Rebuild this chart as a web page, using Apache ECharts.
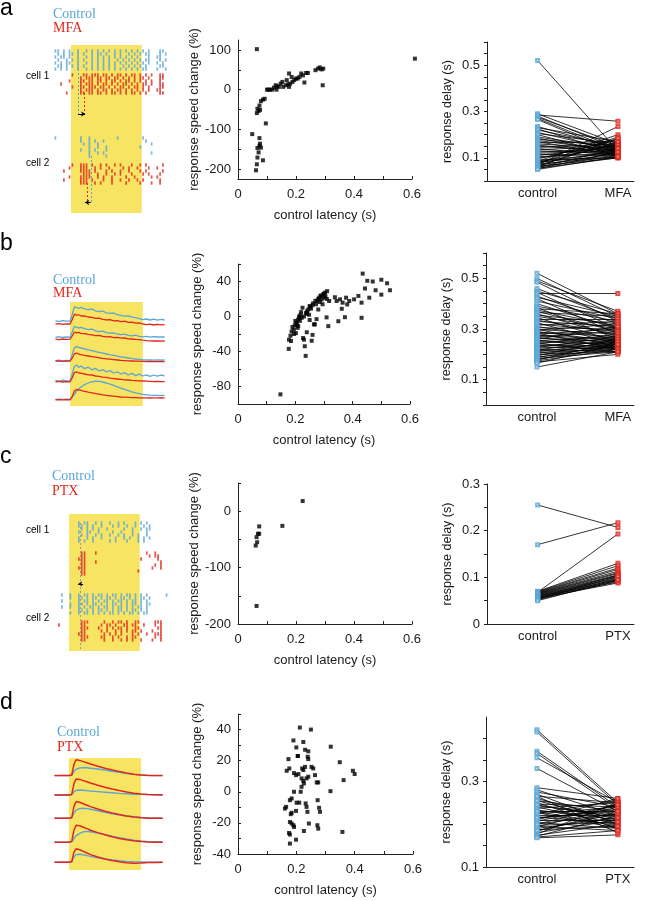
<!DOCTYPE html>
<html><head><meta charset="utf-8">
<script src="https://cdn.jsdelivr.net/npm/echarts@6/dist/echarts.min.js"></script>
<style>html,body{margin:0;padding:0;background:#fff}#c{width:660px;height:901px}</style>
</head><body><div id="c"></div><script>
// ---------------- DATA ----------------
// Scatter: control latency (s) vs response speed change (%)
const latencyA = [0.049,0.062,0.065,0.067,0.071,0.067,0.074,0.079,0.076,0.074,0.086,0.096,0.065,0.071,0.076,0.067,0.074,0.079,0.086,0.092,0.065,0.1,0.105,0.11,0.118,0.124,0.13,0.133,0.141,0.147,0.153,0.156,0.165,0.168,0.173,0.176,0.18,0.185,0.188,0.194,0.2,0.206,0.212,0.218,0.224,0.229,0.235,0.241,0.267,0.276,0.282,0.288,0.294,0.292,0.135,0.176,0.61];
const changeA  = [-112,-203,-188,-171,-158,-147,-141,-146,-136,-122,-178,-85,-59,-54,-51,-48,-40,-29,-25,-23,102,0,0,0,0,5,11,0,7,15,19.5,7,11,24,13.5,7,15,32,19.5,24,28,28,32,40.7,36,18,42,42,49,53,56,51,53,11,8.5,40.7,78];

const latencyB = [0.148,0.177,0.178,0.183,0.187,0.19,0.195,0.198,0.202,0.204,0.208,0.21,0.213,0.216,0.218,0.222,0.225,0.227,0.23,0.233,0.236,0.237,0.241,0.245,0.248,0.251,0.257,0.26,0.262,0.265,0.268,0.272,0.274,0.276,0.28,0.283,0.286,0.288,0.292,0.295,0.297,0.301,0.304,0.309,0.311,0.315,0.318,0.338,0.344,0.35,0.356,0.362,0.365,0.373,0.377,0.381,0.388,0.405,0.42,0.431,0.431,0.435,0.443,0.451,0.458,0.47,0.48,0.5,0.5,0.52,0.53,0.2,0.205,0.215,0.22,0.23,0.24,0.25,0.255,0.26,0.27,0.28,0.29,0.3,0.305,0.31,0.185,0.195,0.21,0.24,0.25];
const changeB  = [-89,-37,-26.5,-22,-17,-12,-15,-10,-19,-7,-13,-3.5,0,-5,2,-1.5,10,-24.6,-26.5,-34,-45,4,6,8,2,11,-27.7,-21,15,-9,-9,14,-3,17.7,8,21.5,16.5,23.5,19.6,14,25.4,21.5,27.3,-1,29,-11,17.7,22,17.7,-5.4,19.6,8.8,15.8,-0.8,21.5,13.8,17.7,19.6,23.5,-1.5,15.8,49,32,40.8,21.5,40,30,25,42,38,30,-5,-9,-1,5,0,3,12,9,13,18,20,24,26,23,20,-28,-20,-11,-18,-4];

const latencyC = [0.061,0.064,0.069,0.073,0.066,0.073,0.064,0.153,0.223];
const changeC  = [-61,-46,-40,-40,-55,-27,-168,-26,18];

const latencyD = [0.212,0.25,0.19,0.224,0.2,0.205,0.23,0.241,0.173,0.205,0.239,0.241,0.318,0.349,0.394,0.4,0.362,0.167,0.176,0.192,0.199,0.207,0.22,0.224,0.23,0.252,0.258,0.218,0.224,0.235,0.241,0.264,0.27,0.275,0.218,0.226,0.215,0.192,0.317,0.178,0.184,0.165,0.161,0.201,0.21,0.232,0.235,0.273,0.278,0.281,0.184,0.181,0.199,0.238,0.178,0.184,0.19,0.192,0.243,0.272,0.275,0.175,0.178,0.199,0.178,0.226,0.358];
const changeD  = [41.3,40,33,32,28.5,23,27,26,21,23,22.5,21,29,19,13.5,11.4,7.5,13.5,15,12,10.7,11.4,15,14,16,16,15,8.6,7,8.6,9.7,10.7,6,6,3.2,5.4,0,0,0.4,-5.4,-4.3,-9.7,-10.8,-7,-7,-7.5,-9.7,-5.4,-10.3,-12.9,-13.5,-14.4,-12.3,-12.9,-19.4,-20.4,-21.5,-22.6,-20.4,-21.5,-23.7,-26.5,-27.5,-30.8,-33.3,-25.2,-25.8];

// Paired response delays (s): [control, drug]
const pairsA = [[0.52,0.13],[0.29,0.16],[0.285,0.258],[0.28,0.14],[0.275,0.15],[0.27,0.13],[0.265,0.12],[0.235,0.14],[0.23,0.17],[0.225,0.12],[0.22,0.15],[0.21,0.13],[0.205,0.16],[0.2,0.11],[0.19,0.14],[0.185,0.12],[0.18,0.15],[0.175,0.13],[0.17,0.11],[0.165,0.17],[0.16,0.14],[0.155,0.12],[0.15,0.13],[0.145,0.16],[0.14,0.11],[0.135,0.15],[0.13,0.12],[0.125,0.14],[0.12,0.13],[0.115,0.11],[0.11,0.15],[0.105,0.12],[0.1,0.14],[0.095,0.18],[0.09,0.1],[0.088,0.12],[0.085,0.2],[0.082,0.11],[0.08,0.16],[0.078,0.13],[0.075,0.19],[0.073,0.105],[0.07,0.235],[0.068,0.12],[0.066,0.17],[0.064,0.1],[0.062,0.185],[0.06,0.11],[0.058,0.14],[0.055,0.1],[0.053,0.125],[0.05,0.105]];
const pairsB = [[0.52,0.36],[0.5,0.35],[0.49,0.37],[0.485,0.33],[0.46,0.34],[0.45,0.36],[0.445,0.3],[0.44,0.44],[0.43,0.32],[0.425,0.35],[0.42,0.28],[0.41,0.34],[0.4,0.3],[0.39,0.33],[0.385,0.26],[0.38,0.36],[0.375,0.31],[0.37,0.29],[0.365,0.35],[0.36,0.27],[0.355,0.32],[0.35,0.3],[0.345,0.25],[0.34,0.34],[0.335,0.28],[0.33,0.31],[0.325,0.24],[0.32,0.29],[0.315,0.33],[0.31,0.26],[0.305,0.3],[0.3,0.23],[0.298,0.28],[0.295,0.32],[0.29,0.25],[0.287,0.27],[0.284,0.22],[0.28,0.3],[0.277,0.24],[0.274,0.26],[0.27,0.29],[0.267,0.23],[0.264,0.25],[0.26,0.31],[0.257,0.22],[0.254,0.27],[0.25,0.24],[0.247,0.26],[0.244,0.21],[0.24,0.28],[0.237,0.23],[0.234,0.25],[0.23,0.22],[0.227,0.27],[0.224,0.24],[0.22,0.21],[0.217,0.26],[0.214,0.23],[0.21,0.25],[0.207,0.22],[0.204,0.24],[0.2,0.21],[0.197,0.23],[0.194,0.26],[0.19,0.22],[0.187,0.24],[0.184,0.21],[0.18,0.23],[0.177,0.25],[0.174,0.22],[0.17,0.2],[0.165,0.24],[0.15,0.21]];
const pairsC = [[0.255,0.207],[0.17,0.217],[0.068,0.193],[0.07,0.13],[0.069,0.125],[0.068,0.12],[0.067,0.117],[0.066,0.113],[0.065,0.11],[0.064,0.108],[0.063,0.105],[0.062,0.103],[0.061,0.1],[0.06,0.098],[0.059,0.095],[0.058,0.093],[0.057,0.09],[0.056,0.105],[0.055,0.088],[0.054,0.097],[0.053,0.102],[0.052,0.092],[0.05,0.095]];
const pairsD = [[0.42,0.25],[0.415,0.245],[0.37,0.24],[0.365,0.235],[0.355,0.25],[0.33,0.23],[0.285,0.26],[0.28,0.22],[0.275,0.24],[0.27,0.2],[0.265,0.25],[0.26,0.21],[0.255,0.23],[0.25,0.19],[0.247,0.24],[0.243,0.22],[0.24,0.2],[0.237,0.25],[0.233,0.21],[0.23,0.23],[0.227,0.19],[0.224,0.24],[0.22,0.22],[0.217,0.2],[0.214,0.235],[0.21,0.21],[0.207,0.245],[0.204,0.19],[0.2,0.225],[0.197,0.205],[0.194,0.24],[0.19,0.215],[0.187,0.195],[0.184,0.23],[0.18,0.21],[0.177,0.25],[0.174,0.2],[0.172,0.22],[0.17,0.185],[0.168,0.175],[0.265,0.18],[0.225,0.255],[0.21,0.26],[0.195,0.185],[0.2,0.245],[0.23,0.195],[0.185,0.225],[0.245,0.215],[0.255,0.205],[0.215,0.23]];

// Raster spike trains: one string per trial, '|' = spike in a 40 ms bin starting at -0.24 s (stimulus 0-1 s)
const RASTER_T0 = -0.22, RASTER_BIN = 0.04;
const rasterA_ctl1 = [
"||.|.|..|..|.|.|.|.|.|.|.|.|.|.|.|...||..",
".|.|.||.|.|..|.||.|..|.|..|.|.|.||...|.|.",
"|.||.|..|..|.|.|.|.|.|.|.|.|.|...|..||...",
".|..|.|.|.|..|.|.|.|..|.|.|.|.|.||...|.|.",
"|.|.||..|..|.|.|.|.|.|.|.|.|.|.|.|..|.|..",
".||.|.|.|.|..|.|.|.|.|..|.|.|.|.|....||..",
"|.|.|...|..|.|.|.|.|.|.|.|.|.|.||...|..|."];
const rasterA_drug1 = [
"......|...||.|||.||.|.||.|.||.|.|.|..||..",
".........|.|||.||.||.||.|.|.|.||.|...||..",
".....|...||.||.||.|.||.|.||.|.|.|.|..|...",
"..|......|.|||.|.||.|.|.||.|.|.||.|..||..",
"......|..||.|||.||.|.|.||.|.||.|.|...||..",
".........|.|||.|.||.|.||.|.|.|.|.|..||...",
"....|....||.||.||.|.||.|.|.||.|.|....||.."];
const rasterA_ctl2 = [
"|........|..|.........|........|.........",
".........|..|.|..|..............|........",
"..........|.|..|..................|......",
"............|..|..|...........|..........",
".........|..|.|...|......................",
"............|..|.|................|......",
"............|.....|......................"];
const rasterA_drug2 = [
"......|..|||.|..|.|..|.|...|..|.|.....|..",
".....|...|||..|.|..|....|.|..|...|..|....",
"...|.....||||.|...|.|..|..|...|.|.....|..",
"..........|||..|..|..|.|...|...|.|...|...",
".....|...||||..|.|..|....|..|.....|.|....",
"...|.....|||.|...|..|..|..|..|.|.....|...",
".........|||..|.|...|....|....|...|..|...."];
const rasterC_ctl1 = [
".........|.||..|.|..|..|.|...|.|.|.......",
".........||.|.|..|...|.|..|..|..|.|......",
"..........|.|.|.|..|.....|..|..|.||......",
".........|..||..|....|..|...|....|.......",
"..........|.|..|.|..|..|.|..|.|..|.......",
".........|..|.|..|....|..|.|..|.|.|......",
".........|.|..|.....|.|...|...|.|........"];
const rasterC_drug1 = [
"..........||...|.................|..|....",
"..........||......................|.||...",
".........|||...................|.....|...",
"..........||...|......................|..",
"..........||........................|.|..",
".........|||.......................|..|..",
"..........||..................|..........",
"..........||............................."];
const rasterC_ctl2 = [
"...|..|..|.||.|.||.|.||.|.||.|.|.|......|",
"......|..||.|.||.|.||.|.||.|.|.||.|......",
"...|.....|.||.|.|.||.|.||.|.||.|.|.......",
"......|..||.|.||.|.|.||.|.|.||.|.||......",
"...|..|..|.|.||.|.||.|.||.|.|.||.|.......",
".........||.|.|.||.|.|.||.|.||.|.|.......",
"......|..|.||.|.|.|.||.|.|.||.|.||......."];
const rasterC_drug2 = [
"..........|||.....|..|.||.|..||.....|||..",
"..|.......||.....|.||.|..||.||..|...|.|..",
"..........|||...|..|.|.||.|..||......||..",
"..........||.....|.|..|.|.|.||.|...|..|..",
".........|||......|.|.|.|...|.|..|..|||..",
"..........|||....||..|.|..|.||......|.|..",
"..........||......|..|..|.|.|..|...|..|.."];

// Panel b traces (time s, response in a.u.; one offset per stacked trace)
const timeB = [-0.2,-0.15,-0.1,-0.05,0,0.03,0.06,0.09,0.12,0.15,0.2,0.25,0.3,0.35,0.4,0.45,0.5,0.55,0.6,0.65,0.7,0.75,0.8,0.85,0.9,0.95,1.0,1.05,1.1,1.15,1.2,1.25,1.3];
const offsetB = [42.2,34.2,22.7,12.5,3.3];
const ctlB1 = [0.4,0.1,0.5,0.2,0.3,3.5,7.3,7.0,6.6,7.1,6.4,6.0,6.3,5.4,5.0,5.3,4.4,4.1,4.3,3.5,3.1,2.7,2.9,2.2,2.0,1.5,1.0,1.3,0.8,1.2,0.7,1.1,0.8];
const mfaB1 = [-1.3,-1.0,-1.4,-1.1,-1.2,1.0,3.7,3.2,3.4,2.8,2.9,2.3,2.1,1.6,1.7,1.1,0.9,1.0,0.4,0.5,0.0,0.2,-0.4,-0.3,-0.8,-0.6,-1.2,-1.5,-1.3,-1.7,-1.4,-1.6,-1.5];
const ctlB2 = [0.2,0.4,0.1,0.3,0.2,2.8,5.6,5.2,4.8,5.1,4.5,4.0,4.2,3.4,3.0,3.2,2.5,2.2,2.4,1.8,1.5,1.7,1.1,0.9,1.2,0.6,0.4,0.6,0.2,0.5,0.3,0.4,0.3];
const mfaB2 = [-0.8,-1.0,-0.7,-0.9,-0.8,0.8,2.8,2.4,2.6,2.1,2.0,1.6,1.4,1.0,1.1,0.6,0.4,0.5,0.0,0.1,-0.3,-0.2,-0.6,-0.7,-0.9,-1.0,-1.3,-1.5,-1.6,-1.7,-1.6,-1.8,-1.7];
const ctlB3 = [0,0.2,-0.1,0.1,0,3.0,6.5,7.0,6.6,6.3,5.9,5.4,5.0,4.5,4.1,3.7,3.3,2.9,2.6,2.2,1.9,1.6,1.3,1.0,0.8,0.6,0.4,0.3,0.3,0.2,0.3,0.2,0.3];
const mfaB3 = [-0.3,-0.2,-0.4,-0.2,-0.3,1.2,3.4,3.7,3.3,3.0,2.6,2.3,2.0,1.7,1.4,1.1,0.9,0.7,0.5,0.3,0.1,0.0,-0.1,-0.2,-0.3,-0.3,-0.4,-0.5,-0.4,-0.5,-0.5,-0.4,-0.5];
const ctlB4 = [0.3,-0.2,0.4,0,0.2,3.5,7.4,8.0,6.8,7.5,6.2,6.9,5.6,6.3,5.0,5.7,4.6,5.2,4.0,4.6,3.5,4.2,3.0,3.8,2.7,3.4,2.5,3.1,2.3,3.0,2.4,2.9,2.6];
const mfaB4 = [-0.4,-0.2,-0.5,-0.3,-0.4,1.5,4.2,4.6,4.0,3.9,3.5,3.1,3.0,2.5,2.3,1.9,1.8,1.4,1.2,1.0,0.8,0.6,0.5,0.3,0.2,0.1,0.0,-0.1,-0.2,-0.3,-0.2,-0.3,-0.3];
const ctlB5 = [0,0.1,0,0.1,0,1.0,2.5,4.0,5.2,6.2,7.4,8.2,8.8,9.1,9.0,8.7,8.2,7.6,7.0,6.3,5.6,5.0,4.4,3.8,3.3,2.9,2.5,2.3,2.1,2.0,2.0,1.9,2.0];
const mfaB5 = [-0.2,-0.1,-0.2,-0.1,-0.2,1.5,4.2,5.0,4.8,4.5,4.0,3.6,3.3,2.9,2.6,2.3,2.0,1.8,1.6,1.4,1.2,1.1,1.0,0.9,0.9,0.8,0.8,0.8,0.7,0.8,0.8,0.7,0.8];

// Panel d traces
const timeD = [-0.2,-0.1,0,0.04,0.07,0.1,0.15,0.2,0.25,0.3,0.4,0.5,0.6,0.7,0.8,0.9,1.0,1.1,1.2,1.3];
const offsetD = [47.2,37.5,25.9,13.9,3.9];
const ctlD1 = [0,0,0,0.2,2.0,3.2,3.8,4.0,3.9,3.7,3.3,2.8,2.2,1.6,1.0,0.6,0.3,0.1,0,0];
const ptxD1 = [0,0,0,0.3,5.5,7.9,7.6,7.0,6.4,5.8,4.7,3.7,2.8,2.0,1.3,0.7,0.3,0.1,0,0];
const ctlD2 = [0,0,0,0.2,1.6,2.3,2.5,2.4,2.2,2.0,1.7,1.4,1.1,0.8,0.6,0.4,0.3,0.2,0.1,0.1];
const ptxD2 = [0,0,0,0.3,5.6,8.0,7.8,7.2,6.6,6.0,4.9,3.9,3.0,2.2,1.5,0.9,0.5,0.2,0.1,0];
const ctlD3 = [0,0,0,0.2,2.5,4.0,4.8,5.0,4.8,4.5,3.7,2.9,2.2,1.6,1.1,0.7,0.4,0.2,0.1,0];
const ptxD3 = [0,0,0,0.3,5.8,8.3,8.0,7.2,6.5,5.8,4.6,3.5,2.6,1.8,1.1,0.6,0.2,0,0,0];
const ctlD4 = [0,0,0,0.2,1.8,3.2,4.4,5.2,5.4,5.2,4.6,3.8,3.0,2.3,1.6,1.0,0.6,0.3,0.2,0.1];
const ptxD4 = [0,0,0,0.4,6.0,8.5,8.2,7.5,6.8,6.0,4.8,3.7,2.7,1.9,1.2,0.7,0.3,0.1,0,0];
const ctlD5 = [0,0,0,0.2,2.6,3.8,4.0,3.7,3.3,2.9,2.2,1.6,1.1,0.7,0.4,0.2,0.1,0,0,0];
const ptxD5 = [0,0,0,0.3,5.0,6.7,6.2,5.4,4.6,3.8,2.6,1.6,0.8,0.2,-0.3,-0.5,-0.4,-0.2,-0.1,0];

// Axis ticks / labels
const latTicks = [0,0.1,0.2,0.3,0.4,0.5,0.6];
const latLabels = [0,0.2,0.4,0.6];

// ---------------- STYLE / LAYOUT ----------------
const BLUE = '#5aa6d6', RED = '#e1261d', YEL = '#f7e463';
const FONT = '"Liberation Sans", Arial, sans-serif';
const grids = [], xAxes = [], yAxes = [], series = [];

function addGrid(g){ grids.push(Object.assign({containLabel:false}, g)); return grids.length-1; }
function hiddenAxes(gi, xmin, xmax, ymin, ymax, inv){
  xAxes.push({gridIndex:gi,type:'value',min:xmin,max:xmax,show:false});
  yAxes.push({gridIndex:gi,type:'value',min:ymin,max:ymax,show:false,inverse:!!inv});
  return xAxes.length-1;
}
function range(a,b,s){const r=[];for(let v=a;v<=b+1e-9;v+=s)r.push(Math.round(v*1000)/1000);return r;}
const axLine = {show:true,onZero:false,lineStyle:{color:'#222',width:1}};
const lblStyle = {fontSize:13,color:'#1a1a1a',fontFamily:FONT};

function scatterPanel(g, ymin, ymax, yTicks, yLabels, xs, ys){
  const gi = addGrid(g);
  xAxes.push({gridIndex:gi,type:'value',min:0,max:0.6,axisLine:axLine,splitLine:{show:false},
    axisTick:{show:true,inside:true,length:3,customValues:latTicks,lineStyle:{color:'#222'}},
    axisLabel:Object.assign({customValues:latLabels,margin:9},lblStyle),
    name:'control latency (s)',nameLocation:'middle',nameGap:30,nameTextStyle:{fontSize:13,color:'#1a1a1a',fontFamily:FONT}});
  yAxes.push({gridIndex:gi,type:'value',min:ymin,max:ymax,axisLine:axLine,splitLine:{show:false},
    axisTick:{show:true,inside:true,length:3,customValues:yTicks,lineStyle:{color:'#222'}},
    axisLabel:Object.assign({customValues:yLabels,margin:7},lblStyle),
    name:'response speed change (%)',nameLocation:'middle',nameGap:34,nameTextStyle:{fontSize:13,color:'#1a1a1a',fontFamily:FONT}});
  const ai = xAxes.length-1;
  series.push({type:'scatter',xAxisIndex:ai,yAxisIndex:ai,symbol:'rect',symbolSize:4,clip:false,
    itemStyle:{color:'#000'},silent:true,data:xs.map((x,i)=>[x,ys[i]])});
}
function pairedPanel(g, ymin, ymax, yTicks, yLabels, drugName, pairs){
  const gi = addGrid(g);
  xAxes.push({gridIndex:gi,type:'value',min:0.37,max:2.2,axisLine:axLine,splitLine:{show:false},
    axisTick:{show:false},
    axisLabel:Object.assign({customValues:[1,2],margin:6,formatter:v=>v===1?'control':drugName},lblStyle)});
  yAxes.push({gridIndex:gi,type:'value',min:ymin,max:ymax,axisLine:axLine,splitLine:{show:false},
    axisTick:{show:true,length:3,customValues:yTicks,lineStyle:{color:'#222'}},
    axisLabel:Object.assign({customValues:yLabels,margin:7},lblStyle),
    name:'response delay (s)',nameLocation:'middle',nameGap:33,nameTextStyle:{fontSize:12.5,color:'#1a1a1a',fontFamily:FONT}});
  const ai = xAxes.length-1;
  series.push({type:'lines',coordinateSystem:'cartesian2d',xAxisIndex:ai,yAxisIndex:ai,silent:true,
    lineStyle:{color:'#000',width:0.8,opacity:1},data:pairs.map(p=>({coords:[[1,p[0]],[2,p[1]]]}))});
  series.push({type:'scatter',xAxisIndex:ai,yAxisIndex:ai,symbol:'emptyRect',symbolSize:3,silent:true,
    itemStyle:{color:BLUE,borderColor:BLUE,borderWidth:0.6},data:pairs.map(p=>[1,p[0]])});
  series.push({type:'scatter',xAxisIndex:ai,yAxisIndex:ai,symbol:'emptyRect',symbolSize:3,silent:true,
    itemStyle:{color:RED,borderColor:RED,borderWidth:0.6},data:pairs.map(p=>[2,p[1]])});
}
function yellowBox(ai, y0, y1){
  series.push({type:'custom',xAxisIndex:ai,yAxisIndex:ai,silent:true,z:0,data:[[0,y0,1,y1]],
    renderItem:(params,api)=>{const a=api.coord([api.value(0),api.value(1)]),b=api.coord([api.value(2),api.value(3)]);
      return {type:'rect',shape:{x:Math.min(a[0],b[0]),y:Math.min(a[1],b[1]),width:Math.abs(b[0]-a[0]),height:Math.abs(b[1]-a[1])},style:{fill:YEL}};}});
}
function rasterSeries(ai, rows, firstRow, color){
  const d=[]; rows.forEach((s,k)=>{for(let i=0;i<s.length;i++) if(s[i]==='|') d.push([RASTER_T0+RASTER_BIN*i, firstRow+k]);});
  series.push({type:'scatter',xAxisIndex:ai,yAxisIndex:ai,symbol:'rect',symbolSize:[1.7,3.3],silent:true,z:3,
    itemStyle:{color:color},data:d});
}
function markLines(ai, segs, dashed, arrow){
  series.push({type:'lines',coordinateSystem:'cartesian2d',xAxisIndex:ai,yAxisIndex:ai,silent:true,z:4,
    symbol:arrow?['none','arrow']:'none',symbolSize:4,
    lineStyle:{width:1,opacity:1,type:dashed?[2,2]:'solid'},
    data:segs.map(s=>({coords:[[s[0],s[1]],[s[2],s[3]]],lineStyle:{color:s[4]}}))});
}
function traceSeries(ai, t, vals, off, color, w){
  series.push({type:'line',xAxisIndex:ai,yAxisIndex:ai,showSymbol:false,silent:true,z:3,
    lineStyle:{color:color,width:w},data:t.map((x,i)=>[x,off+vals[i]])});
}

// ---- Row a ----
let ai = hiddenAxes(addGrid({left:54,top:42,width:116,height:180}), -0.24, 1.4, 0, 60, true);
yellowBox(ai, 1, 57);
rasterSeries(ai, rasterA_ctl1, 3, BLUE);
rasterSeries(ai, rasterA_drug1, 11, RED);
rasterSeries(ai, rasterA_ctl2, 32, BLUE);
rasterSeries(ai, rasterA_drug2, 41, RED);
markLines(ai, [[0.1,9,0.1,24,BLUE],[0.19,17,0.19,24,RED],[0.28,38,0.28,53.5,BLUE],[0.23,47,0.23,53.5,RED]], true, false);
markLines(ai, [[0.1,24,0.2,24,'#000'],[0.28,53.5,0.2,53.5,'#000']], false, true);
scatterPanel({left:238,top:40,width:174,height:139}, -225, 125, range(-200,100,50), [-200,-100,0,100], latencyA, changeA);
pairedPanel({left:487,top:42,width:147,height:139}, 0, 0.6, range(0,0.6,0.05), [0.1,0.3,0.5], 'MFA', pairsA);

// ---- Row b ----
ai = hiddenAxes(addGrid({left:54,top:302,width:115,height:104}), -0.22, 1.36, 0, 52, false);
yellowBox(ai, 0, 52);
[[ctlB1,mfaB1],[ctlB2,mfaB2],[ctlB3,mfaB3],[ctlB4,mfaB4],[ctlB5,mfaB5]].forEach((p,k)=>{
  traceSeries(ai, timeB, p[0], offsetB[k], BLUE, 1.3);
  traceSeries(ai, timeB, p[1], offsetB[k], RED, 1.3);
});
scatterPanel({left:238,top:264,width:172,height:140}, -100, 60, range(-100,60,20), [-80,-40,0,40], latencyB, changeB);
pairedPanel({left:486,top:253,width:148,height:152}, 0, 0.6, range(0,0.6,0.05), [0.1,0.3,0.5], 'MFA', pairsB);

// ---- Row c ----
ai = hiddenAxes(addGrid({left:52,top:511,width:116,height:144}), -0.24, 1.4, 0, 48, true);
yellowBox(ai, 1, 46.7);
rasterSeries(ai, rasterC_ctl1, 4, BLUE);
rasterSeries(ai, rasterC_drug1, 14, RED);
rasterSeries(ai, rasterC_ctl2, 28, BLUE);
rasterSeries(ai, rasterC_drug2, 37, RED);
markLines(ai, [[0.16,4,0.16,46,'#999']], true, false);
markLines(ai, [[0.2,24.3,0.13,24.3,'#000']], false, true);
scatterPanel({left:238,top:483,width:174,height:141}, -200, 50, range(-200,50,50), [-200,-100,0], latencyC, changeC);
pairedPanel({left:487,top:484,width:147,height:140}, 0, 0.3, range(0,0.3,0.05), [0,0.1,0.2,0.3], 'PTX', pairsC);

// ---- Row d ----
ai = hiddenAxes(addGrid({left:53,top:758,width:114,height:112}), -0.22, 1.36, 0, 56, false);
yellowBox(ai, 0, 56);
[[ctlD1,ptxD1],[ctlD2,ptxD2],[ctlD3,ptxD3],[ctlD4,ptxD4],[ctlD5,ptxD5]].forEach((p,k)=>{
  traceSeries(ai, timeD, p[0], offsetD[k], BLUE, 1.4);
  traceSeries(ai, timeD, p[1], offsetD[k], RED, 1.5);
});
scatterPanel({left:238,top:714,width:175,height:140}, -40, 50, range(-40,50,10), [-40,-20,0,20,40], latencyD, changeD);
pairedPanel({left:486,top:717,width:148,height:150}, 0.1, 0.45, range(0.1,0.4,0.05), [0.1,0.3], 'PTX', pairsD);

// ---- Texts ----
function txt(s,x,y,size,color,family){return {type:'text',x:x,y:y,silent:true,z:10,
  style:{text:s,fill:color,font:size+'px '+family,verticalAlign:'middle',textVerticalAlign:'middle'}};}
const SERIF='"Liberation Serif","Times New Roman",serif';
const graphics = [
  txt('a',0,9,23,'#000',FONT), txt('b',0,244,23,'#000',FONT), txt('c',0,457,23,'#000',FONT), txt('d',0,703,23,'#000',FONT),
  txt('Control',53,14,14,BLUE,SERIF), txt('MFA',53,28,14,RED,SERIF),
  txt('cell 1',26,76,10,'#000',FONT), txt('cell 2',26,163,10,'#000',FONT),
  txt('Control',53,280,14,BLUE,SERIF), txt('MFA',53,293,14,RED,SERIF),
  txt('Control',52,476,14,BLUE,SERIF), txt('PTX',52,491,14,RED,SERIF),
  txt('cell 1',26,530,10,'#000',FONT), txt('cell 2',26,618,10,'#000',FONT),
  txt('Control',57,732,14,BLUE,SERIF), txt('PTX',57,747,14,RED,SERIF)
];

const chart = echarts.init(document.getElementById('c'), null, {renderer:'canvas',width:660,height:901});
chart.setOption({animation:false,backgroundColor:'#fff',grid:grids,xAxis:xAxes,yAxis:yAxes,series:series,graphic:graphics});
</script></body></html>
